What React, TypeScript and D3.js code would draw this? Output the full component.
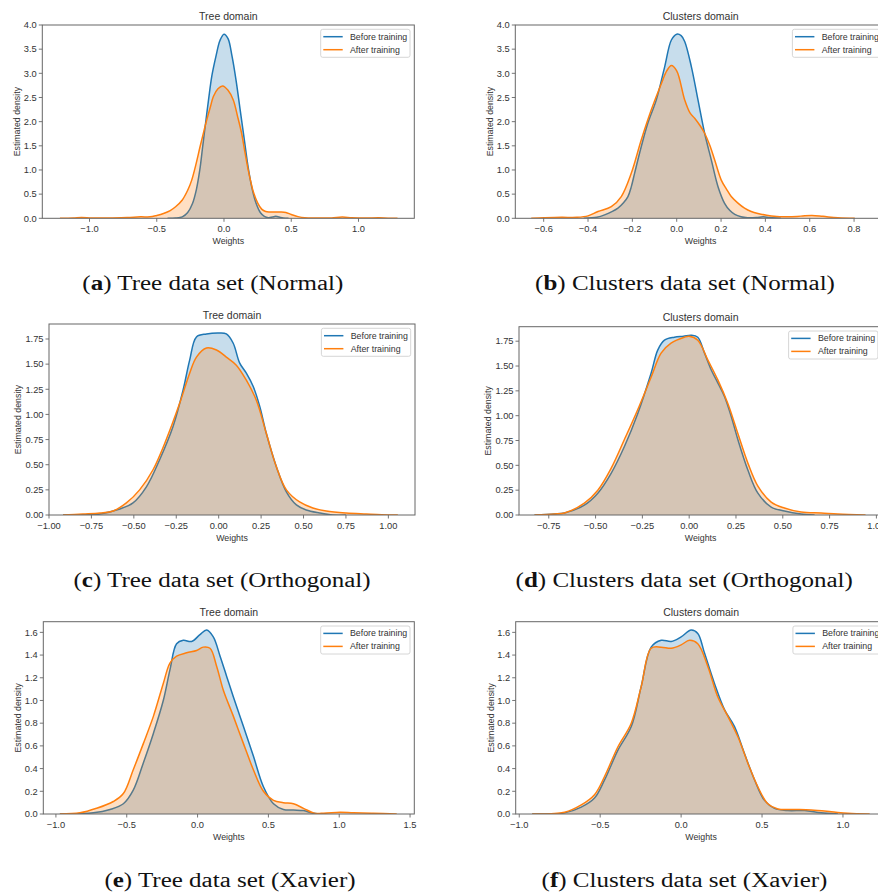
import React from 'react';
import * as d3 from 'd3';

type P = [number, number];

const BLUE = '#1f77b4';
const ORANGE = '#ff7f0e';

// ---- (a) Tree, Normal
const treeNormalBefore: P[] = [[-0.42,0],[-0.36,0.005],[-0.31,0.03],[-0.27,0.12],[-0.235,0.3],[-0.205,0.6],[-0.18,1.0],[-0.16,1.45],[-0.14,1.9],[-0.115,2.45],[-0.09,2.95],[-0.06,3.35],[-0.03,3.68],[0.0,3.81],[0.03,3.72],[0.06,3.35],[0.09,2.85],[0.12,2.25],[0.15,1.65],[0.18,1.05],[0.21,0.6],[0.24,0.3],[0.27,0.12],[0.30,0.04],[0.33,0.012],[0.36,0.025],[0.385,0.04],[0.41,0.025],[0.44,0.005],[0.48,0]];
const treeNormalAfter: P[] = [[-1.22,0],[-1.12,0.005],[-1.06,0.015],[-0.98,0.005],[-0.85,0.008],[-0.72,0.015],[-0.62,0.03],[-0.55,0.03],[-0.5,0.06],[-0.45,0.1],[-0.4,0.16],[-0.36,0.24],[-0.31,0.38],[-0.27,0.58],[-0.24,0.79],[-0.21,1.1],[-0.178,1.48],[-0.15,1.8],[-0.129,2.03],[-0.1,2.32],[-0.079,2.52],[-0.045,2.68],[-0.01,2.74],[0.03,2.65],[0.069,2.45],[0.1,2.12],[0.131,1.76],[0.155,1.38],[0.18,1.0],[0.2,0.75],[0.218,0.55],[0.25,0.32],[0.28,0.19],[0.31,0.14],[0.34,0.13],[0.38,0.13],[0.42,0.13],[0.46,0.12],[0.5,0.08],[0.55,0.035],[0.6,0.01],[0.7,0.005],[0.8,0.008],[0.88,0.025],[0.95,0.012],[1.05,0.005],[1.15,0.01],[1.22,0.003],[1.29,0]];

// ---- (b) Clusters, Normal
const clustersNormalBefore: P[] = [[-0.42,0],[-0.36,0.02],[-0.325,0.07],[-0.265,0.21],[-0.24,0.32],[-0.22,0.45],[-0.205,0.65],[-0.19,0.93],[-0.16,1.48],[-0.13,1.97],[-0.092,2.45],[-0.054,3.14],[-0.024,3.69],[0.0,3.81],[0.02,3.78],[0.036,3.66],[0.066,3.14],[0.096,2.45],[0.126,1.76],[0.156,1.21],[0.186,0.66],[0.216,0.31],[0.24,0.16],[0.262,0.08],[0.29,0.03],[0.32,0.01],[0.36,0.015],[0.39,0.03],[0.42,0.015],[0.47,0]];
const clustersNormalAfter: P[] = [[-0.656,0],[-0.6,0.01],[-0.52,0.02],[-0.45,0.02],[-0.4,0.05],[-0.355,0.14],[-0.295,0.24],[-0.25,0.45],[-0.205,0.93],[-0.16,1.62],[-0.115,2.24],[-0.069,2.79],[-0.045,3.05],[-0.024,3.16],[0.0,3.05],[0.036,2.45],[0.06,2.18],[0.081,2.07],[0.105,1.92],[0.126,1.76],[0.15,1.5],[0.171,1.21],[0.201,0.79],[0.225,0.6],[0.246,0.45],[0.275,0.32],[0.306,0.21],[0.336,0.14],[0.366,0.1],[0.427,0.05],[0.502,0.03],[0.56,0.045],[0.61,0.06],[0.66,0.04],[0.727,0.01],[0.803,0]];

// ---- (c) Tree, Orthogonal
const treeOrthoBefore: P[] = [[-0.917,0],[-0.8,0.003],[-0.7,0.01],[-0.583,0.06],[-0.505,0.12],[-0.426,0.28],[-0.348,0.55],[-0.269,0.88],[-0.21,1.24],[-0.171,1.54],[-0.131,1.77],[-0.072,1.8],[0.006,1.81],[0.045,1.8],[0.085,1.71],[0.124,1.51],[0.163,1.41],[0.203,1.28],[0.242,1.08],[0.281,0.81],[0.34,0.48],[0.399,0.23],[0.458,0.1],[0.516,0.05],[0.595,0.02],[0.673,0.0],[0.75,0]];
const treeOrthoAfter: P[] = [[-0.917,0],[-0.8,0.01],[-0.7,0.02],[-0.622,0.04],[-0.544,0.12],[-0.466,0.25],[-0.387,0.45],[-0.309,0.75],[-0.23,1.11],[-0.171,1.41],[-0.131,1.57],[-0.072,1.66],[-0.013,1.64],[0.045,1.57],[0.104,1.49],[0.163,1.34],[0.222,1.14],[0.281,0.81],[0.34,0.48],[0.399,0.25],[0.477,0.13],[0.555,0.07],[0.634,0.04],[0.752,0.02],[0.87,0.01],[0.96,0.003],[1.056,0]];

// ---- (d) Clusters, Orthogonal
const clustersOrthoBefore: P[] = [[-0.826,0],[-0.72,0.01],[-0.666,0.02],[-0.56,0.1],[-0.488,0.22],[-0.417,0.42],[-0.346,0.69],[-0.275,1.02],[-0.203,1.43],[-0.168,1.66],[-0.132,1.76],[-0.079,1.79],[-0.03,1.8],[0.011,1.81],[0.046,1.79],[0.082,1.63],[0.118,1.46],[0.153,1.33],[0.189,1.19],[0.225,0.99],[0.26,0.76],[0.314,0.45],[0.367,0.22],[0.438,0.08],[0.509,0.04],[0.598,0.01],[0.67,0]];
const clustersOrthoAfter: P[] = [[-0.826,0],[-0.72,0.01],[-0.666,0.02],[-0.56,0.12],[-0.488,0.25],[-0.417,0.47],[-0.346,0.76],[-0.275,1.06],[-0.203,1.39],[-0.15,1.63],[-0.097,1.73],[-0.026,1.79],[0.0,1.8],[0.046,1.76],[0.1,1.56],[0.153,1.36],[0.207,1.12],[0.26,0.82],[0.314,0.52],[0.367,0.29],[0.438,0.13],[0.509,0.07],[0.598,0.03],[0.705,0.02],[0.794,0.01],[0.942,0]];

// ---- (e) Tree, Xavier
const treeXavierBefore: P[] = [[-0.972,0],[-0.85,0.003],[-0.736,0.01],[-0.618,0.04],[-0.524,0.09],[-0.454,0.21],[-0.383,0.45],[-0.312,0.71],[-0.242,1.0],[-0.195,1.27],[-0.148,1.5],[-0.101,1.53],[-0.042,1.52],[0.017,1.58],[0.064,1.62],[0.111,1.56],[0.159,1.39],[0.206,1.21],[0.253,1.03],[0.324,0.77],[0.394,0.51],[0.465,0.24],[0.536,0.09],[0.606,0.04],[0.677,0.035],[0.748,0.03],[0.818,0.006],[0.889,0]];
const treeXavierAfter: P[] = [[-0.972,0],[-0.83,0.01],[-0.713,0.05],[-0.595,0.11],[-0.524,0.18],[-0.454,0.39],[-0.383,0.62],[-0.312,0.86],[-0.242,1.15],[-0.195,1.33],[-0.148,1.39],[-0.077,1.42],[-0.007,1.44],[0.04,1.47],[0.088,1.46],[0.135,1.3],[0.182,1.09],[0.253,0.86],[0.324,0.62],[0.394,0.39],[0.465,0.2],[0.536,0.12],[0.606,0.1],[0.677,0.09],[0.748,0.05],[0.818,0.01],[0.889,0.006],[1.006,0.015],[1.1,0.01],[1.24,0.006],[1.406,0]];

// ---- (f) Clusters, Xavier
const clustersXavierBefore: P[] = [[-0.92,0],[-0.72,0.01],[-0.617,0.06],[-0.535,0.14],[-0.473,0.3],[-0.391,0.56],[-0.308,0.77],[-0.247,1.12],[-0.185,1.47],[-0.123,1.53],[-0.061,1.52],[0.0,1.56],[0.062,1.62],[0.103,1.59],[0.144,1.42],[0.206,1.15],[0.268,0.92],[0.33,0.77],[0.392,0.53],[0.454,0.3],[0.515,0.12],[0.577,0.05],[0.66,0.03],[0.763,0.03],[0.866,0.01],[0.969,0]];
const clustersXavierAfter: P[] = [[-0.92,0],[-0.72,0.015],[-0.617,0.08],[-0.535,0.17],[-0.473,0.33],[-0.391,0.59],[-0.308,0.8],[-0.247,1.12],[-0.185,1.46],[-0.123,1.47],[-0.061,1.46],[0.0,1.49],[0.052,1.53],[0.103,1.5],[0.165,1.3],[0.227,1.03],[0.289,0.86],[0.351,0.68],[0.412,0.45],[0.474,0.24],[0.536,0.09],[0.598,0.044],[0.701,0.04],[0.804,0.035],[0.928,0.02],[1.03,0.006],[1.165,0]];

const seriesNames = ['Before training', 'After training'];
const panelTitles = ['Tree domain', 'Clusters domain', 'Tree domain', 'Clusters domain', 'Tree domain', 'Clusters domain'];
const captionLetters = ['a', 'b', 'c', 'd', 'e', 'f'];
const captionTexts = ['Tree data set (Normal)', 'Clusters data set (Normal)', 'Tree data set (Orthogonal)', 'Clusters data set (Orthogonal)', 'Tree data set (Xavier)', 'Clusters data set (Xavier)'];

const xDomains: [number, number][] = [[-1.351, 1.415], [-0.728, 0.944], [-1.0, 1.157], [-0.909, 1.031], [-1.089, 1.53], [-1.022, 1.269]];
const yDomains: [number, number][] = [[0, 4.0], [0, 4.0], [0, 1.899], [0, 1.896], [0, 1.694], [0, 1.694]];
const xTicks: number[][] = [
  [-1.0, -0.5, 0.0, 0.5, 1.0],
  [-0.6, -0.4, -0.2, 0.0, 0.2, 0.4, 0.6, 0.8],
  [-1.0, -0.75, -0.5, -0.25, 0.0, 0.25, 0.5, 0.75, 1.0],
  [-0.75, -0.5, -0.25, 0.0, 0.25, 0.5, 0.75, 1.0],
  [-1.0, -0.5, 0.0, 0.5, 1.0, 1.5],
  [-1.0, -0.5, 0.0, 0.5, 1.0],
];
const yTicks: number[][] = [
  [0, 0.5, 1.0, 1.5, 2.0, 2.5, 3.0, 3.5, 4.0],
  [0, 0.5, 1.0, 1.5, 2.0, 2.5, 3.0, 3.5, 4.0],
  [0, 0.25, 0.5, 0.75, 1.0, 1.25, 1.5, 1.75],
  [0, 0.25, 0.5, 0.75, 1.0, 1.25, 1.5, 1.75],
  [0, 0.2, 0.4, 0.6, 0.8, 1.0, 1.2, 1.4, 1.6],
  [0, 0.2, 0.4, 0.6, 0.8, 1.0, 1.2, 1.4, 1.6],
];
const xDecimals = [1, 1, 2, 2, 1, 1];
const yDecimals = [1, 1, 2, 2, 1, 1];

const beforeSeries = [treeNormalBefore, clustersNormalBefore, treeOrthoBefore, clustersOrthoBefore, treeXavierBefore, clustersXavierBefore];
const afterSeries = [treeNormalAfter, clustersNormalAfter, treeOrthoAfter, clustersOrthoAfter, treeXavierAfter, clustersXavierAfter];

// layout (pixel boxes of axes)
const boxes = [
  { l: 42.3, r: 414.3, t: 25, b: 218.3 },
  { l: 515.3, r: 886, t: 25, b: 218.3 },
  { l: 49, r: 415, t: 324, b: 515 },
  { l: 519, r: 882.2, t: 326.7, b: 515 },
  { l: 43.3, r: 414.3, t: 621.7, b: 814 },
  { l: 515.7, r: 886.5, t: 621.7, b: 814 },
];
const captionPos = [
  { cx: 212.8, y: 290 },
  { cx: 685, y: 290 },
  { cx: 222, y: 587 },
  { cx: 684.2, y: 587 },
  { cx: 230, y: 887 },
  { cx: 684.5, y: 887 },
];

const TXT = '#333333';
const SPINE = '#666666';
const SANS = 'Liberation Sans, Arial, sans-serif';

function Panel({ i }: { i: number }) {
  const box = boxes[i];
  const x = d3.scaleLinear().domain(xDomains[i]).range([box.l, box.r]);
  const y = d3.scaleLinear().domain(yDomains[i]).range([box.b, box.t]);
  const curve = d3.curveCatmullRom.alpha(0.5);
  const area = d3.area<P>().x(d => x(d[0])).y0(y(0)).y1(d => y(d[1])).curve(curve);
  const line = d3.line<P>().x(d => x(d[0])).y(d => y(d[1])).curve(curve);
  const fx = d3.format(`.${xDecimals[i]}f`);
  const fy = d3.format(`.${yDecimals[i]}f`);
  const clipId = `clip${i}`;
  const legW = 89.3, legH = 28;
  const legX = box.r - 4.3 - legW;
  const legY = box.t + 4.3;
  const ylabOff = yDecimals[i] === 2 ? 31.5 : 25;
  const cols = [BLUE, ORANGE];
  const series = [beforeSeries[i], afterSeries[i]];
  return (
    <g>
      <defs>
        <clipPath id={clipId}>
          <rect x={box.l} y={box.t} width={box.r - box.l} height={box.b - box.t} />
        </clipPath>
      </defs>
      <g clipPath={`url(#${clipId})`}>
        {series.map((s, k) => (
          <g key={k}>
            <path d={area(s) || ''} fill={cols[k]} fillOpacity={0.25} stroke="none" />
            <path d={line(s) || ''} fill="none" stroke={cols[k]} strokeWidth={1.5} />
          </g>
        ))}
      </g>
      <rect x={box.l} y={box.t} width={box.r - box.l} height={box.b - box.t} fill="none" stroke={SPINE} strokeWidth={1} />
      {xTicks[i].map(t => (
        <g key={`x${t}`}>
          <line x1={x(t)} x2={x(t)} y1={box.b} y2={box.b + 3.5} stroke={SPINE} strokeWidth={0.9} />
          <text x={x(t)} y={box.b + 14} textAnchor="middle" fontFamily={SANS} fontSize={9.3} fill={TXT}>{fx(t)}</text>
        </g>
      ))}
      {yTicks[i].map(t => (
        <g key={`y${t}`}>
          <line x1={box.l - 3.5} x2={box.l} y1={y(t)} y2={y(t)} stroke={SPINE} strokeWidth={0.9} />
          <text x={box.l - 5.5} y={y(t)} dy="0.35em" textAnchor="end" fontFamily={SANS} fontSize={9.3} fill={TXT}>{fy(t)}</text>
        </g>
      ))}
      <text x={(box.l + box.r) / 2} y={box.t - 5.5} textAnchor="middle" fontFamily={SANS} fontSize={10.5} fill={TXT}>{panelTitles[i]}</text>
      <text x={(box.l + box.r) / 2} y={box.b + 25.5} textAnchor="middle" fontFamily={SANS} fontSize={8.8} fill={TXT}>Weights</text>
      <text transform={`translate(${box.l - ylabOff},${(box.t + box.b) / 2}) rotate(-90)`} dy="0.35em" textAnchor="middle" fontFamily={SANS} fontSize={8.8} fill={TXT}>Estimated density</text>
      <rect x={legX} y={legY} width={legW} height={legH} rx={2} fill="#ffffff" fillOpacity={0.85} stroke="#cccccc" strokeWidth={0.8} />
      {seriesNames.map((n, k) => (
        <g key={n}>
          <line x1={legX + 2.6} x2={legX + 22} y1={legY + 7.4 + k * 13} y2={legY + 7.4 + k * 13} stroke={cols[k]} strokeWidth={1.5} />
          <text x={legX + 29.3} y={legY + 7.4 + k * 13} dy="0.35em" fontFamily={SANS} fontSize={8.8} fill={TXT}>{n}</text>
        </g>
      ))}
      <g transform={`translate(${captionPos[i].cx},${captionPos[i].y}) scale(1.25,1)`}>
        <text x={0} y={0} textAnchor="middle" fontFamily="Liberation Serif, Times New Roman, serif" fontSize={20} fill="#111">
          (<tspan fontWeight="bold">{captionLetters[i]}</tspan>) {captionTexts[i]}
        </text>
      </g>
    </g>
  );
}

export default function App() {
  return (
    <svg width={878} height={895} style={{ position: 'absolute', left: 0, top: 0, background: '#fff' }}>
      <rect x={0} y={0} width={878} height={895} fill="#fff" />
      {boxes.map((_, i) => <Panel key={i} i={i} />)}
    </svg>
  );
}
